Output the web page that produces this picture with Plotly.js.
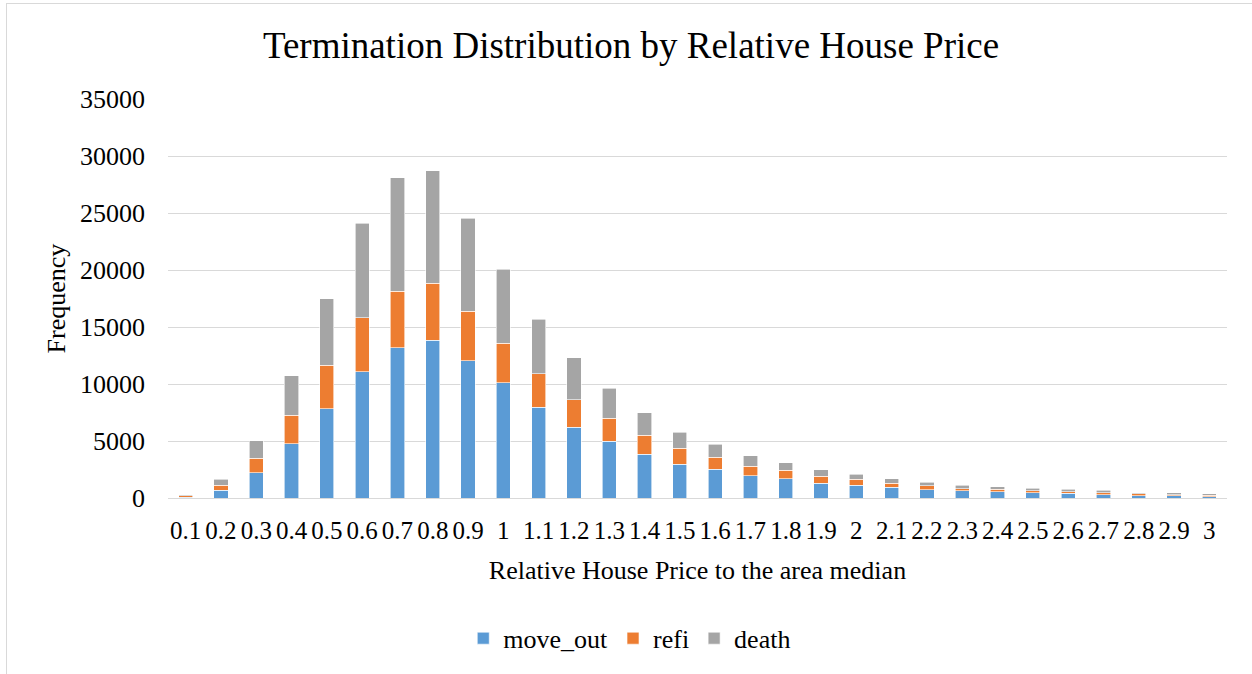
<!DOCTYPE html>
<html>
<head>
<meta charset="utf-8">
<script src="https://cdn.plot.ly/plotly-3.0.1.min.js"></script>
<style>
html,body{margin:0;padding:0;background:#fff;overflow:hidden;}
#chart{position:absolute;left:0;top:0;width:1252px;height:674px;}
#frame{position:absolute;left:6px;top:3px;width:1300px;height:720px;border:1px solid #d9d9d9;pointer-events:none;z-index:10;}
</style>
</head>
<body>
<div id="chart"></div>
<div id="frame"></div>
<script>
const categories = ["0.1","0.2","0.3","0.4","0.5","0.6","0.7","0.8","0.9","1",
  "1.1","1.2","1.3","1.4","1.5","1.6","1.7","1.8","1.9","2",
  "2.1","2.2","2.3","2.4","2.5","2.6","2.7","2.8","2.9","3"];
const moveOut = [60, 670, 2220, 4760, 7850, 11090, 13160, 13840, 12030, 10100,
  7940, 6220, 4990, 3850, 2980, 2510, 1960, 1690, 1280, 1110,
  930, 706, 617, 529, 440, 410, 294, 206, 206, 118];
const refi = [140, 470, 1250, 2480, 3800, 4730, 4970, 4990, 4350, 3470,
  2980, 2420, 1990, 1670, 1370, 1050, 840, 730, 620, 550,
  350, 380, 210, 235, 180, 150, 150, 175, 90, 115];
const death = [70, 520, 1550, 3470, 5810, 8290, 9980, 9860, 8170, 6510,
  4780, 3680, 2650, 1980, 1400, 1140, 910, 670, 580, 440,
  410, 290, 290, 235, 230, 200, 240, 90, 175, 150];
const yTicks = [0, 5000, 10000, 15000, 20000, 25000, 30000, 35000];
const yTickText = ["0", "5000", "10000", "15000", "20000", "25000", "30000", "35000"];

const FONT = "Liberation Serif, Times New Roman, serif";
function mk(name, y, color) {
  return {type: 'bar', name: name, x: categories, y: y,
    marker: {color: color, line: {color: '#ffffff', width: 0.6}},
    hoverinfo: 'x+y+name'};
}
const data = [
  mk('move_out', moveOut, '#5B9BD5'),
  mk('refi', refi, '#ED7D31'),
  mk('death', death, '#A5A5A5')
];
const layout = {
  width: 1252, height: 674,
  paper_bgcolor: '#ffffff', plot_bgcolor: '#ffffff',
  barmode: 'stack', bargap: 0.6,
  font: {family: FONT, color: '#000000', size: 24},
  margin: {l: 168, r: 25, t: 99, b: 176, pad: 0},
  title: {text: 'Termination Distribution by Relative House Price',
    font: {family: FONT, size: 37, color: '#000'},
    x: 0.504, xref: 'container', xanchor: 'center',
    y: 0.933, yref: 'container', yanchor: 'middle'},
  xaxis: {type: 'category', tickangle: 0, showgrid: false, showline: false,
    zeroline: false, ticks: '', ticklabelstandoff: 15,
    tickfont: {family: FONT, size: 25, color: '#000'},
    title: {text: 'Relative House Price to the area median',
      font: {family: FONT, size: 26, color: '#000'}, standoff: 17},
    automargin: false},
  yaxis: {range: [0, 35000], tickvals: yTicks, ticktext: yTickText, showgrid: true, gridcolor: '#d9d9d9',
    gridwidth: 1.3, zeroline: true, zerolinecolor: '#d9d9d9', zerolinewidth: 1.3,
    showline: false, ticks: '', ticklabelstandoff: 22,
    tickfont: {family: FONT, size: 26, color: '#000'},
    title: {text: 'Frequency', font: {family: FONT, size: 26, color: '#000'}, standoff: 6},
    automargin: false},
  showlegend: true,
  legend: {orientation: 'h', xref: 'container', yref: 'container',
    x: 0.503, xanchor: 'center', y: 0.053, yanchor: 'middle',
    font: {family: FONT, size: 26, color: '#000'}, traceorder: 'normal',
    itemwidth: 30, bgcolor: 'rgba(0,0,0,0)'}
};
Plotly.newPlot('chart', data, layout, {displayModeBar: false, responsive: false});
</script>
</body>
</html>
